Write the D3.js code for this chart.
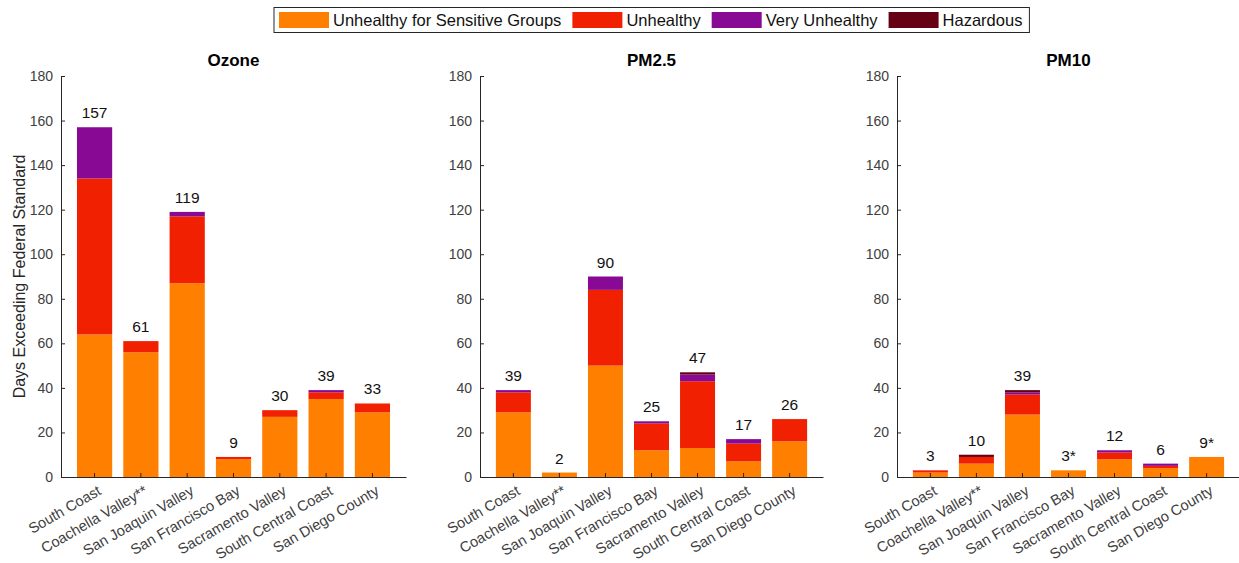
<!DOCTYPE html>
<html>
<head>
<meta charset="utf-8">
<script src="https://cdn.jsdelivr.net/npm/d3@7"></script>
<style>
  body { margin: 0; background: #fff; }
  svg { font-family: "Liberation Sans", Arial, sans-serif; }
</style>
</head>
<body>
<div id="chart"></div>
<script>
var categories = ["South Coast", "Coachella Valley**", "San Joaquin Valley", "San Francisco Bay",
                  "Sacramento Valley", "South Central Coast", "San Diego County"];
var levels = ["Unhealthy for Sensitive Groups", "Unhealthy", "Very Unhealthy", "Hazardous"];
var levelColors = ["#ff8000", "#f02000", "#880a94", "#660014"];
var yTicks = [0, 20, 40, 60, 80, 100, 120, 140, 160, 180];

// days per category, one array per level
var ozoneUSG = [64, 56, 87, 8, 27, 35, 29];
var ozoneU   = [70, 5, 30, 1, 3, 3, 4];
var ozoneVU  = [23, 0, 2, 0, 0, 1, 0];
var ozoneH   = [0, 0, 0, 0, 0, 0, 0];
var ozoneLabels = ["157", "61", "119", "9", "30", "39", "33"];

var pm25USG = [29, 2, 50, 12, 13, 7, 16];
var pm25U   = [9, 0, 34, 12, 30, 8, 10];
var pm25VU  = [1, 0, 6, 1, 3, 2, 0];
var pm25H   = [0, 0, 0, 0, 1, 0, 0];
var pm25Labels = ["39", "2", "90", "25", "47", "17", "26"];

var pm10USG = [2, 6, 28, 3, 8, 4, 9];
var pm10U   = [1, 3, 9, 0, 3, 1, 0];
var pm10VU  = [0, 0, 1, 0, 1, 1, 0];
var pm10H   = [0, 1, 1, 0, 0, 0, 0];
var pm10Labels = ["3", "10", "39", "3*", "12", "6", "9*"];

var panels = [
  { title: "Ozone", left: 61,  right: 406,  series: [ozoneUSG, ozoneU, ozoneVU, ozoneH], labels: ozoneLabels },
  { title: "PM2.5", left: 480, right: 823,  series: [pm25USG, pm25U, pm25VU, pm25H], labels: pm25Labels },
  { title: "PM10",  left: 897, right: 1240, series: [pm10USG, pm10U, pm10VU, pm10H], labels: pm10Labels }
];

var svg = d3.select("#chart").append("svg")
  .attr("width", 1239)
  .attr("height", 563);

var plotTop = 76, plotBottom = 477;
var y = d3.scaleLinear().domain([0, 180]).range([plotBottom, plotTop]);

panels.forEach(function(p) {
  var rows = categories.map(function(c, i) {
    var r = { cat: c, label: p.labels[i] };
    levels.forEach(function(l, k) { r[l] = p.series[k][i]; });
    return r;
  });
  var stacked = d3.stack().keys(levels)(rows);

  var x = d3.scaleBand()
    .domain(categories)
    .range([p.left, p.right])
    .paddingInner(0.24)
    .paddingOuter(0.345);

  var g = svg.append("g");

  g.selectAll("g.layer")
    .data(stacked)
    .enter()
      .append("g")
      .attr("class", "layer")
      .attr("fill", function(d, i) { return levelColors[i]; })
      .selectAll("rect")
      .data(function(d) { return d; })
      .enter()
        .append("rect")
        .attr("x", function(d) { return x(d.data.cat); })
        .attr("width", x.bandwidth())
        .attr("y", function(d) { return y(d[1]); })
        .attr("height", function(d) { return y(d[0]) - y(d[1]); });

  // totals above bars
  g.selectAll("text.total")
    .data(rows)
    .enter()
      .append("text")
      .attr("class", "total")
      .attr("x", function(d) { return x(d.cat) + x.bandwidth() / 2; })
      .attr("y", function(d) {
        var t = levels.reduce(function(s, l) { return s + d[l]; }, 0);
        return y(t) - 9;
      })
      .attr("text-anchor", "middle")
      .attr("font-size", "15.5px")
      .attr("fill", "#111")
      .text(function(d) { return d.label; });

  // y axis
  var yAxis = d3.axisLeft(y).tickValues(yTicks).tickSizeInner(-4).tickSizeOuter(0).tickPadding(8);
  var ya = g.append("g").attr("transform", "translate(" + p.left + ",0)").call(yAxis);
  ya.select(".domain").attr("stroke", "#262626");
  ya.selectAll(".tick line").attr("stroke", "#262626");
  ya.selectAll(".tick text").attr("font-size", "14px").attr("fill", "#404040")
    .attr("font-family", "Liberation Sans, Arial, sans-serif");

  // x axis
  var xAxis = d3.axisBottom(x).tickSizeInner(-4).tickSizeOuter(0).tickPadding(6);
  var xa = g.append("g").attr("transform", "translate(0," + plotBottom + ")").call(xAxis);
  xa.select(".domain").attr("stroke", "#262626");
  xa.selectAll(".tick line").attr("stroke", "#262626");
  xa.selectAll(".tick text")
    .attr("font-size", "14.7px")
    .attr("fill", "#404040")
    .attr("font-family", "Liberation Sans, Arial, sans-serif")
    .attr("text-anchor", "end")
    .attr("dy", "0.35em")
    .attr("transform", "translate(2,7) rotate(-30)");

  g.append("text")
    .attr("x", (p.left + p.right) / 2)
    .attr("y", 66)
    .attr("text-anchor", "middle")
    .attr("font-size", "17px")
    .attr("font-weight", "bold")
    .attr("fill", "#000")
    .text(p.title);
});

svg.append("text")
  .attr("transform", "translate(25," + ((plotTop + plotBottom) / 2) + ") rotate(-90)")
  .attr("text-anchor", "middle")
  .attr("font-size", "16px")
  .attr("fill", "#262626")
  .text("Days Exceeding Federal Standard");

// legend
var legend = svg.append("g");
var lx = 279;
levels.forEach(function(l, i) {
  legend.append("rect")
    .attr("x", lx).attr("y", 12)
    .attr("width", 50).attr("height", 16)
    .attr("fill", levelColors[i]);
  var t = legend.append("text")
    .attr("x", lx + 54).attr("y", 25.5)
    .attr("font-size", "16.5px")
    .attr("fill", "#111")
    .text(l);
  lx = lx + 54 + t.node().getComputedTextLength() + 11;
});
legend.insert("rect", ":first-child")
  .attr("x", 274).attr("y", 7.5)
  .attr("width", lx - 274 - 4).attr("height", 25)
  .attr("fill", "#fff")
  .attr("stroke", "#262626");
</script>
</body>
</html>
